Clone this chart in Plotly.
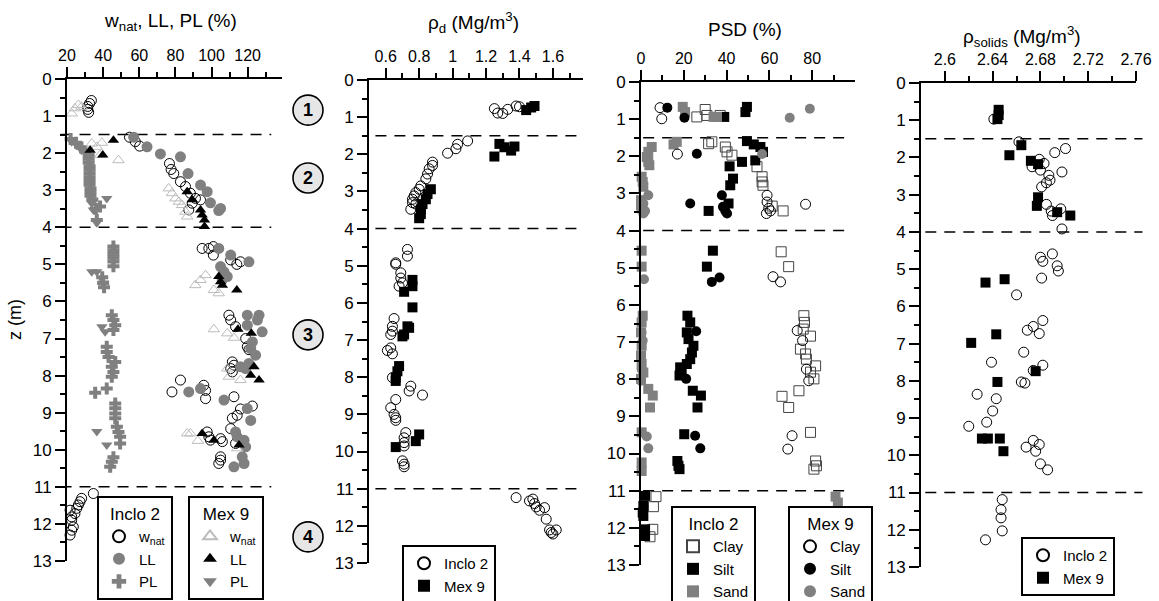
import plotly.graph_objects as go

W, H = 1159, 601
def px(x): return x / W
def py(y): return 1 - y / H

# ---------------- data ----------------
layer_boundaries = [1.5, 4, 11]
layer_names = ["1", "2", "3", "4"]
layer_label_z = [0.84, 2.67, 6.9, 12.35]

# Panel 1: w_nat, LL, PL (%)
inclo_wnat_v = [33.5, 32.5, 31.5, 31.5, 32.0,
                54.6, 57.8, 60.2, 76.7, 77.6, 79.1, 82.8, 85.6, 88.3, 91.1, 93.9, 89.3, 87.4,
                94.8, 98.5, 101, 101, 110.6, 114, 116,
                109.6, 110.6, 113.3, 118.9, 119.8, 120.7, 111.5, 112.4, 110.6, 111.5, 82.8, 78.1, 95.7, 96.7, 96.7,
                112.4, 122.6, 116, 114.2, 111.5, 110.6, 97.6, 98.5, 99.4, 105, 106, 105, 105, 104, 113.3,
                34.6, 28.1, 27.2, 26.3, 25.4, 24.4, 21.7, 22.6, 22.6, 23.5, 22.6, 21.7]
inclo_wnat_z = [0.58, 0.66, 0.74, 0.82, 0.9,
                1.57, 1.69, 1.81, 2.28, 2.44, 2.55, 2.77, 2.9, 3.08, 3.22, 3.26, 3.35, 3.53,
                4.57, 4.57, 4.52, 4.75, 4.88, 5.0, 4.93,
                6.37, 6.5, 6.68, 7.0, 7.22, 7.3, 7.63, 7.72, 7.81, 7.9, 8.12, 8.44, 8.26, 8.4, 8.62,
                8.57, 8.82, 8.9, 9.07, 9.15, 9.43, 9.52, 9.65, 9.74, 9.7, 9.78, 10.19, 10.28, 10.37, 9.83,
                11.18, 11.31, 11.4, 11.49, 11.58, 11.72, 11.63, 11.81, 11.9, 12.08, 12.17, 12.3]

inclo_LL_v = [56.9, 64.3, 71.7, 82.8, 87, 93.9, 97.6, 99.4, 105, 104,
              104, 110.6, 120.7, 105, 106.9, 108.7, 105.9,
              119.8, 126.3, 125.4, 119.8, 128, 122.6, 121.7, 124.4, 120.7, 118.9, 116, 87.4, 93.9, 106.9,
              119.8, 121.7, 113.3, 114.2, 118, 118.9, 117, 118, 112.4]
inclo_LL_z = [1.57, 1.83, 2.02, 2.1, 2.55, 2.86, 3.04, 3.34, 3.49, 3.55,
              4.57, 4.75, 4.93, 5.06, 5.2, 5.33, 5.42,
              6.37, 6.37, 6.5, 6.64, 6.82, 7.09, 7.27, 7.45, 7.67, 7.81, 7.76, 8.44, 8.35, 8.66,
              8.89, 9.21, 9.52, 9.65, 9.74, 9.92, 10.19, 10.37, 10.46]

inclo_PL_v = [22, 25, 28, 30, 32, 32, 32, 32.5, 32.5, 32.5, 32.5, 32.5, 32.5, 33, 33, 33, 34, 38.3, 36, 36.5,
              45.7, 45.7, 45.7, 45.7, 45.7, 45.7, 39.5, 40, 40.5,
              44.8, 45.7, 46.7, 45.7, 42, 42, 43, 46.7, 44.8, 45.7, 44.8, 35.6, 42,
              46.7, 46.7, 46.7, 46.7, 47.6, 48.5, 49.4, 49.4, 45.7, 44.8, 43.9]
inclo_PL_z = [1.62, 1.72, 1.85, 1.95, 2.05, 2.15, 2.25, 2.35, 2.45, 2.55, 2.65, 2.75, 2.85, 2.95, 3.05, 3.15, 3.25, 3.44, 3.5, 3.8,
              4.52, 4.62, 4.72, 4.82, 4.92, 5.05, 5.35, 5.5, 5.62,
              6.37, 6.5, 6.64, 6.77, 7.22, 7.36, 7.5, 7.63, 7.76, 7.9, 8.03, 8.46, 8.35,
              8.75, 8.88, 9.02, 9.15, 9.38, 9.52, 9.65, 9.83, 10.2, 10.32, 10.46]

mex_wnat_v = [22.6, 24.4, 26.3, 28,
              33.7, 36.5, 39.3, 38.3, 48.5, 76.3, 78.1, 80, 81.9, 83.7, 85.6, 86.5,
              91, 93.9, 96.7, 101.3, 104, 101.3, 108.7, 112.4, 108.7, 109.6, 116, 86.5, 88.3, 92.4, 114.2]
mex_wnat_z = [0.93, 0.79, 0.7, 0.75,
              1.74, 1.83, 1.72, 2.05, 2.19, 2.95, 3.08, 3.22, 3.31, 3.4, 3.58, 3.71,
              5.56, 5.42, 5.29, 5.69, 5.78, 6.75, 6.86, 6.98, 7.81, 8.03, 8.12, 9.56, 9.56, 9.76, 9.96]

mex_LL_v = [45.7, 32.8, 39.8, 86.5, 89.3, 93.9, 94.8, 96.1, 96.1,
            104, 105, 106, 114, 114.6, 122, 123.5, 121.7, 126.3, 94.8, 101.3, 115.2]
mex_LL_z = [1.65, 1.92, 2.05, 3.04, 3.26, 3.53, 3.67, 3.8, 3.98,
            5.33, 5.47, 5.56, 5.69, 6.75, 6.86, 7.76, 7.99, 8.12, 9.56, 9.74, 9.87]

mex_PL_v = [19, 22.6, 25.4, 28.1, 19.5, 33.7, 34.6, 36.5, 42,
            33.7, 36.5, 39.3, 40.2, 39.3, 41.1, 36.5, 42]
mex_PL_z = [1.6, 1.69, 1.78, 1.92, 2.08, 3.35, 3.53, 3.88, 3.22,
            5.2, 5.2, 5.38, 5.5, 6.68, 6.82, 9.51, 9.87]

# Panel 2: rho_d (Mg/m3)
inclo_rhod_v = [1.25, 1.27, 1.30, 1.33, 1.38, 1.40,
                1.09, 1.03, 1.02, 0.97, 0.88, 0.88, 0.86, 0.85, 0.84, 0.81, 0.80, 0.78, 0.77, 0.76, 0.76, 0.75, 0.78,
                0.73, 0.73, 0.66, 0.66, 0.69, 0.69, 0.70, 0.68,
                0.65, 0.64, 0.64, 0.63, 0.61, 0.64, 0.63, 0.64, 0.66, 0.63, 0.65, 0.66, 0.66,
                0.72, 0.71, 0.71, 0.71, 0.74, 0.75, 0.82, 0.70, 0.71, 0.71,
                1.38, 1.46, 1.48, 1.49, 1.50, 1.52, 1.55, 1.56, 1.58, 1.60, 1.62, 1.59]
inclo_rhod_z = [0.77, 0.89, 0.9, 0.79, 0.7, 0.72,
                1.64, 1.73, 1.85, 1.97, 2.21, 2.3, 2.39, 2.53, 2.66, 2.85, 2.94, 3.03, 3.12, 3.21, 3.3, 3.48, 3.34,
                4.56, 4.74, 4.92, 4.96, 5.19, 5.33, 5.46, 5.55,
                6.42, 6.63, 6.76, 6.85, 7.28, 7.37, 7.21, 8.01, 8.6, 8.82, 9.0, 9.09, 9.16,
                9.49, 9.63, 9.76, 9.85, 8.37, 8.24, 8.48, 10.25, 10.34, 10.41,
                11.24, 11.33, 11.28, 11.4, 11.49, 11.58, 11.51, 11.82, 12.11, 12.22, 12.11, 12.18]

mex_rhod_v = [1.44, 1.47, 1.49,
              1.25, 1.28, 1.31, 1.35, 1.37,
              0.87, 0.85, 0.84, 0.82, 0.81, 0.81, 0.80,
              0.76, 0.76, 0.71, 0.76, 0.73, 0.74, 0.71, 0.70, 0.68, 0.67, 0.66, 0.66, 0.80, 0.78, 0.66]
mex_rhod_z = [0.81, 0.74, 0.7,
              2.06, 1.72, 1.81, 1.9, 1.79,
              2.94, 3.07, 3.21, 3.34, 3.48, 3.61, 3.72,
              5.38, 5.55, 5.7, 6.12, 6.63, 6.67, 6.85, 6.9, 7.7, 7.84, 8.01, 8.1, 9.54, 9.72, 9.88]

# Panel 3: PSD (%)
inclo_clay_v = [26.1, 30.0, 30.8, 37.0,
                31.6, 33.1, 39.4, 40.2, 42.5, 54.2, 56.6, 56.6, 57.0, 61.3, 66.4,
                65.5, 69.0,
                76.1, 76.4, 75.8, 79.2, 74.5, 76.9, 77.3, 81.6, 79.2, 80.8, 73.8, 65.9, 69.0, 79.2, 81.6, 82.0, 80.8,
                7.0, 5.8, 5.5, 4.2]
inclo_clay_z = [0.94, 0.74, 0.9, 0.9,
                1.66, 1.61, 1.75, 1.88, 1.97, 2.28, 2.55, 2.69, 2.78, 3.34, 3.47,
                4.57, 4.97,
                6.29, 6.47, 6.65, 6.84, 7.19, 7.32, 7.46, 7.64, 7.81, 7.99, 8.31, 8.46, 8.76, 9.43, 10.2, 10.33, 10.42,
                11.16, 11.43, 12.04, 12.24]

inclo_silt_v = [49.5, 48.8, 38.9,
                49.5, 52.7, 55.8, 57.0, 53.4, 47.2, 41.4, 43.0, 41.7, 40.9, 31.6,
                33.6, 30.8,
                21.7, 23.0, 21.4, 22.2, 24.5, 23.8, 23.0, 21.4, 18.3, 19.0, 18.0, 24.2, 28.0, 26.4, 20.2, 17.0, 17.5, 18.0,
                1.9, 1.1, 0.8, 1.1, 1.9, 1.9]
inclo_silt_z = [0.67, 0.81, 0.94,
                1.59, 1.68, 1.75, 1.88, 2.11, 2.15, 2.27, 2.6, 2.78, 3.27, 3.47,
                4.54, 4.97,
                6.29, 6.47, 6.74, 6.92, 7.1, 7.28, 7.46, 7.59, 7.68, 7.86, 7.9, 8.31, 8.44, 8.76, 9.48, 10.2, 10.33, 10.42,
                11.14, 11.41, 11.59, 11.68, 12.04, 12.22]

inclo_sand_v = [19.5, 20.6, 33.9, 35.5,
                16.7, 15.2, 5.0, 3.4, 2.7, 3.4, 3.9, 0.3, 0.8, 1.1, 0.0, 0.0, 0.3,
                0.3, 0.3,
                0.8, 0.3, 0.0, 0.3, 0.0, 0.3, 1.1, 0.0, 3.4, 5.5, 4.2, 0.3, 0.3, 0.3,
                90.9, 92.0]
inclo_sand_z = [0.67, 0.81, 0.94, 0.94,
                1.61, 1.68, 1.75, 1.88, 2.02, 2.15, 2.24, 2.55, 2.69, 2.82, 3.18, 3.32, 3.4,
                4.54, 4.97,
                6.29, 6.47, 6.74, 7.1, 7.37, 7.59, 7.82, 7.99, 8.26, 8.44, 8.76, 9.43, 10.24, 10.47,
                11.16, 11.32]

mex_clay_v = [8.9, 9.7, 17.0, 58.9, 58.9, 59.7, 60.5, 58.6, 76.9, 61.7, 65.2, 73.0, 75.5, 77.3, 78.4, 70.6, 68.6]
mex_clay_z = [0.69, 0.99, 1.94, 3.05, 3.23, 3.4, 3.47, 3.54, 3.29, 5.24, 5.38, 6.69, 6.96, 7.73, 8.04, 9.52, 9.88]

mex_silt_v = [12.3, 20.3, 26.1, 23.0, 37.8, 38.3, 39.4, 40.2, 33.1, 36.7, 25.8, 21.1, 25.3, 27.7]
mex_silt_z = [0.69, 0.96, 1.93, 3.27, 3.05, 3.36, 3.47, 3.54, 5.38, 5.26, 6.71, 7.99, 9.52, 9.86]

mex_sand_v = [69.5, 78.9, 56.6, 3.4, 1.1, 0.8, 1.9, 1.1, 1.4, 0.3, 0.8, 0.3, 0.0, 2.7, 3.4]
mex_sand_z = [0.96, 0.72, 1.94, 3.05, 3.27, 3.4, 3.47, 3.54, 5.31, 6.74, 6.96, 7.73, 8.04, 9.54, 9.86]

# Panel 4: rho_solids (Mg/m3)
inclo_rhos_v = [2.641,
                2.662, 2.701, 2.692, 2.679, 2.683, 2.673, 2.680, 2.698, 2.687, 2.688, 2.685, 2.681, 2.685, 2.689, 2.690, 2.697, 2.698,
                2.690, 2.680, 2.682, 2.694, 2.695, 2.681, 2.660,
                2.682, 2.674, 2.669, 2.679, 2.666, 2.682, 2.674, 2.664, 2.667, 2.639, 2.627, 2.643, 2.640, 2.635, 2.620,
                2.674, 2.679, 2.668, 2.676, 2.680, 2.686,
                2.648, 2.647, 2.647, 2.648, 2.634]
inclo_rhos_z = [0.97,
                1.58, 1.76, 1.87, 2.05, 2.16, 2.25, 2.34, 2.39, 2.48, 2.61, 2.68, 2.79, 3.26, 3.44, 3.56, 3.38, 3.92,
                4.59, 4.68, 4.79, 4.91, 5.05, 5.24, 5.69,
                6.38, 6.54, 6.64, 6.73, 7.23, 7.58, 7.72, 8.03, 8.06, 7.5, 8.36, 8.48, 8.81, 9.11, 9.22,
                9.6, 9.71, 9.78, 9.89, 10.23, 10.39,
                11.19, 11.46, 11.68, 12.03, 12.27]

mex_rhos_v = [2.645, 2.645, 2.644,
              2.664, 2.654, 2.672, 2.678, 2.678, 2.677, 2.694, 2.705,
              2.634, 2.650, 2.643, 2.622, 2.676, 2.644, 2.631, 2.636, 2.646, 2.649]
mex_rhos_z = [0.72, 0.86, 0.97,
              1.67, 1.94, 2.09, 2.18, 3.07, 3.3, 3.47, 3.56,
              5.36, 5.27, 6.75, 6.98, 7.74, 8.03, 9.55, 9.55, 9.55, 9.89]

# axis ticks
p1_ticks = [20, 40, 60, 80, 100, 120]
p1_minor = [30, 50, 70, 90, 110, 130]
p2_ticks = [0.6, 0.8, 1.0, 1.2, 1.4, 1.6]
p2_labels = ["0.6", "0.8", "1", "1.2", "1.4", "1.6"]
p2_minor = [0.7, 0.9, 1.1, 1.3, 1.5, 1.7]
p3_ticks = [0, 20, 40, 60, 80]
p3_minor = [10, 30, 50, 70, 90]
p4_ticks = [2.6, 2.64, 2.68, 2.72, 2.76]
p4_labels = ["2.6", "2.64", "2.68", "2.72", "2.76"]
p4_minor = [2.62, 2.66, 2.70, 2.74]
z_ticks = list(range(0, 14))
z_minor = [i + 0.5 for i in range(13)]

FONT = "Liberation Sans, Arial, sans-serif"
GRAY = "#808080"

panels = [
    dict(xl=67, xr=282, yt=79, yb=561, rng=[20, 139], tv=p1_ticks, tt=[str(t) for t in p1_ticks], mv=p1_minor,
         title="w<sub>nat</sub>, LL, PL (%)", tx=170, ty=22, dash=(-0.03, 0.95)),
    dict(xl=369, xr=583, yt=80, yb=563, rng=[0.5, 1.78], tv=p2_ticks, tt=p2_labels, mv=p2_minor,
         title="ρ<sub>d</sub> (Mg/m<sup>3</sup>)", tx=473, ty=23, dash=(0.03, 1.0)),
    dict(xl=641, xr=855, yt=82, yb=565, rng=[0, 100], tv=p3_ticks, tt=[str(t) for t in p3_ticks], mv=p3_minor,
         title="PSD (%)", tx=745, ty=30, dash=(0.01, 0.98)),
    dict(xl=921, xr=1136, yt=83, yb=567, rng=[2.58, 2.76], tv=p4_ticks, tt=p4_labels, mv=p4_minor,
         title="ρ<sub>solids</sub> (Mg/m<sup>3</sup>)", tx=1022, ty=37, dash=(0.02, 1.03)),
]

fig = go.Figure()
layout = {}
shapes = []
annotations = []
for i, p in enumerate(panels, start=1):
    xn = "xaxis" if i == 1 else f"xaxis{i}"
    yn = "yaxis" if i == 1 else f"yaxis{i}"
    xa = "x" if i == 1 else f"x{i}"
    ya = "y" if i == 1 else f"y{i}"
    layout[xn] = dict(domain=[px(p["xl"]), px(p["xr"])], range=p["rng"], side="top", anchor=ya,
                      showline=True, linecolor="black", linewidth=2, showgrid=False, zeroline=False,
                      tickmode="array", tickvals=p["tv"], ticktext=p["tt"], ticks="outside", ticklen=10,
                      tickwidth=2, tickcolor="black", tickfont=dict(size=16, color="black", family=FONT),
                      minor=dict(tickmode="array", tickvals=p["mv"], ticks="outside", ticklen=5,
                                 tickwidth=2, tickcolor="black", showgrid=False),
                      automargin=False, fixedrange=True)
    layout[yn] = dict(domain=[py(p["yb"]), py(p["yt"])], range=[13, 0], anchor=xa,
                      showline=True, linecolor="black", linewidth=2, showgrid=False, zeroline=False,
                      tickmode="array", tickvals=z_ticks, ticks="outside", ticklen=10,
                      tickwidth=2, tickcolor="black", tickfont=dict(size=17, color="black", family=FONT),
                      minor=dict(tickmode="array", tickvals=z_minor, ticks="outside", ticklen=5,
                                 tickwidth=2, tickcolor="black", showgrid=False),
                      automargin=False, fixedrange=True)
    for zb in layer_boundaries:
        shapes.append(dict(type="line", xref=f"{xa} domain", yref=ya, x0=p["dash"][0], x1=p["dash"][1],
                           y0=zb, y1=zb, line=dict(color="black", width=1.5, dash="11px,8px"), layer="below"))
    annotations.append(dict(text=p["title"], x=px(p["tx"]), y=py(p["ty"]), xref="paper", yref="paper",
                            showarrow=False, xanchor="center", yanchor="middle",
                            font=dict(size=19, color="black", family=FONT)))

annotations.append(dict(text="z (m)", x=px(15), y=py(320), xref="paper", yref="paper", showarrow=False,
                        textangle=-90, xanchor="center", yanchor="middle",
                        font=dict(size=18, color="black", family=FONT)))

# layer labels (circled numbers), positioned on panel-1 depth scale
R = 15
for name, zc in zip(layer_names, layer_label_z):
    ycen = 79 + zc * (561 - 79) / 13
    shapes.append(dict(type="circle", xref="paper", yref="paper", x0=px(308 - R), x1=px(308 + R),
                       y0=py(ycen + R), y1=py(ycen - R), fillcolor="#e6e6e6",
                       line=dict(color="black", width=1.6), layer="above"))
    annotations.append(dict(text=f"<b>{name}</b>", x=px(308), y=py(ycen), xref="paper", yref="paper",
                            xanchor="center", yanchor="middle", showarrow=False,
                            font=dict(size=18, color="black", family=FONT)))


def add(xv, zv, panel, name, legend, marker):
    xa = "x" if panel == 1 else f"x{panel}"
    ya = "y" if panel == 1 else f"y{panel}"
    fig.add_trace(go.Scatter(x=xv, y=zv, xaxis=xa, yaxis=ya, mode="markers", name=name, legend=legend,
                             marker=marker, cliponaxis=False, hoverinfo="skip"))


open_circle = dict(symbol="circle-open", size=10, color="black", line=dict(width=1))
# panel 1
add(inclo_wnat_v, inclo_wnat_z, 1, "w<sub>nat</sub>", "legend", open_circle)
add(inclo_LL_v, inclo_LL_z, 1, "LL", "legend", dict(symbol="circle", size=11, color=GRAY))
add(inclo_PL_v, inclo_PL_z, 1, "PL", "legend", dict(symbol="cross", size=10, color=GRAY))
add(mex_wnat_v, mex_wnat_z, 1, "w<sub>nat</sub>", "legend2",
    dict(symbol="triangle-up-open", size=10, color="#bdbdbd", line=dict(width=1)))
add(mex_LL_v, mex_LL_z, 1, "LL", "legend2", dict(symbol="triangle-up", size=10, color="black"))
add(mex_PL_v, mex_PL_z, 1, "PL", "legend2", dict(symbol="triangle-down", size=10, color=GRAY))
# panel 2
add(inclo_rhod_v, inclo_rhod_z, 2, "Inclo 2", "legend3", open_circle)
add(mex_rhod_v, mex_rhod_z, 2, "Mex 9", "legend3", dict(symbol="square", size=10, color="black"))
# panel 3
add(inclo_clay_v, inclo_clay_z, 3, "Clay", "legend4",
    dict(symbol="square-open", size=10, color="#444444", line=dict(width=1)))
add(inclo_silt_v, inclo_silt_z, 3, "Silt", "legend4", dict(symbol="square", size=10, color="black"))
add(inclo_sand_v, inclo_sand_z, 3, "Sand", "legend4", dict(symbol="square", size=10, color=GRAY))
add(mex_clay_v, mex_clay_z, 3, "Clay", "legend5", open_circle)
add(mex_silt_v, mex_silt_z, 3, "Silt", "legend5", dict(symbol="circle", size=10, color="black"))
add(mex_sand_v, mex_sand_z, 3, "Sand", "legend5", dict(symbol="circle", size=10, color=GRAY))
# panel 4
add(inclo_rhos_v, inclo_rhos_z, 4, "Inclo 2", "legend6", open_circle)
add(mex_rhos_v, mex_rhos_z, 4, "Mex 9", "legend6", dict(symbol="square", size=10, color="black"))


def legend_box(x, y, title=None):
    d = dict(x=px(x), y=py(y), xanchor="left", yanchor="top", xref="paper", yref="paper",
             bordercolor="black", borderwidth=2, bgcolor="white",
             font=dict(size=15, color="black", family=FONT), tracegroupgap=0, itemsizing="constant",
             itemwidth=30)
    if title:
        d["title"] = dict(text=title, side="top center", font=dict(size=17, color="black", family=FONT))
    return d


layout["legend"] = legend_box(97, 496, "Inclo 2")
layout["legend2"] = legend_box(188, 496, "Mex 9")
layout["legend3"] = legend_box(402, 545)
layout["legend4"] = legend_box(671, 506, "Inclo 2")
layout["legend5"] = legend_box(788, 506, "Mex 9")
layout["legend6"] = legend_box(1021, 537)

fig.update_layout(**layout)
fig.update_layout(width=W, height=H, margin=dict(l=0, r=0, t=0, b=0, autoexpand=False),
                  paper_bgcolor="white", plot_bgcolor="white", shapes=shapes, annotations=annotations,
                  showlegend=True, font=dict(family=FONT, color="black"))

fig.write_html("out.html")
